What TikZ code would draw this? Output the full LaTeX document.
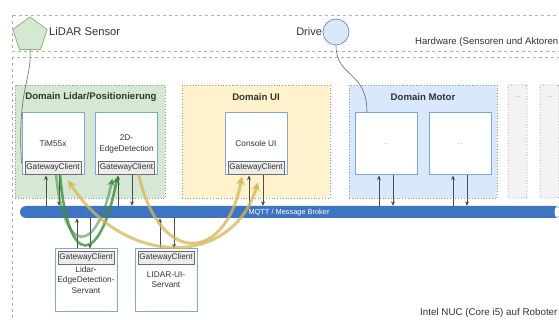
\documentclass[tikz,border=0pt]{standalone}
\usepackage{fontspec}
\setmainfont{Liberation Sans}
\usetikzlibrary{shapes.geometric,arrows.meta,calc}
\definecolor{lidarfill}{HTML}{D5E8D4}
\definecolor{lidarline}{HTML}{82B366}
\definecolor{uifill}{HTML}{FFF2CC}
\definecolor{motorfill}{HTML}{DAE8FC}
\definecolor{motorline}{HTML}{6C8EBF}
\definecolor{grayfill}{HTML}{F3F3F3}
\definecolor{compblue}{HTML}{7EA6E0}
\definecolor{busblue}{HTML}{3E74C3}
\definecolor{dashgray}{HTML}{B0B0B0}
\definecolor{txt}{HTML}{333333}
\definecolor{flowgreen}{HTML}{3E8E3E}
\definecolor{flowyellow}{HTML}{D6B656}
\tikzset{
  zone/.style={draw=dashgray, dashed, line width=0.7pt},
  domainbox/.style={draw=gray!80, dotted, line width=0.8pt, inner sep=0pt},
  domaintitle/.style={font=\bfseries\fontsize{9.6}{11}\selectfont, text=txt},
  comp/.style={draw=compblue, line width=1pt, fill=white, minimum width=62pt,
    minimum height=62pt, inner sep=0pt, align=center,
    font=\fontsize{8.3}{10.2}\selectfont, text=txt},
  gw/.style={draw=gray!85!black, fill=gray!15, line width=0.6pt, minimum width=56pt,
    minimum height=13pt, inner sep=0pt, font=\fontsize{8.2}{9}\selectfont, text=txt},
  busarrow/.style={draw=black!70, line width=0.9pt, -{Stealth[length=4.5pt,width=4pt]}},
  link/.style={draw=black!60, line width=0.6pt},
  greenflow/.style={draw=flowgreen, draw opacity=0.8, line width=2.6pt,
    -{Stealth[length=8pt,width=8pt]}},
  yellowflow/.style={draw=flowyellow, draw opacity=0.75, line width=3pt,
    -{Stealth[length=9pt,width=9pt]}},
}
\begin{document}
\begin{tikzpicture}[x=1pt,y=-1pt]
\useasboundingbox (0,0) rectangle (559,320);
\clip (0,0) rectangle (559,320);
\fill[white] (0,0) rectangle (559,320);

% hardware strip and computer frame
\draw[zone] (12,15) rectangle (575,51);
\draw[zone] (12,57) rectangle (575,335);
\node[anchor=west, font=\fontsize{9.6}{11}\selectfont, text=txt, inner sep=0pt] (hwlabel) at (415,42) {Hardware (Sensoren und Aktoren};
\node[anchor=west, font=\fontsize{9.8}{11}\selectfont, text=txt, inner sep=0pt] (nuclabel) at (420,313) {Intel NUC (Core i5) auf Roboter};

% sensors and actuators
\node[regular polygon, regular polygon sides=5, minimum size=36pt, inner sep=0pt,
  fill=lidarfill, draw=lidarline, line width=0.7pt] (lidar) at (30,35) {};
\node[anchor=west, font=\fontsize{11.2}{13}\selectfont, text=txt, inner sep=0pt] (lidarlabel) at (49,32) {LiDAR Sensor};
\node[circle, minimum size=26pt, inner sep=0pt, fill=motorfill, draw=motorline,
  line width=0.7pt] (drive) at (336,32) {};
\node[anchor=east, font=\fontsize{11}{13}\selectfont, text=txt, inner sep=0.5pt] (drivelabel) at (drive.west) {Drive};

% domains
\node[domainbox, fill=lidarfill, minimum width=150pt, minimum height=113pt] (dlidar) at (90,141.5) {};
\node[domaintitle] (tlidar) at (91,97) {Domain Lidar/Positionierung};
\node[domainbox, fill=uifill, minimum width=148pt, minimum height=113pt] (dui) at (256,141.5) {};
\node[domaintitle] (tui) at (256,97) {Domain UI};
\node[domainbox, fill=motorfill, minimum width=148pt, minimum height=113pt] (dmotor) at (423,141.5) {};
\node[domaintitle] (tmotor) at (423,97) {Domain Motor};
\node[domainbox, fill=grayfill, minimum width=19pt, minimum height=113pt, rounded corners=1pt] (dmore1) at (517.5,141.5) {};
\node[font=\fontsize{6}{7}\selectfont, text=gray] (m1dots) at (517.5,97) {...};
\node[domainbox, fill=grayfill, minimum width=19pt, minimum height=113pt, rounded corners=1pt] (dmore2) at (549.5,141.5) {};
\node[font=\fontsize{6}{7}\selectfont, text=gray] (m2dots) at (549.5,97) {...};

% components
\node[comp] (tim) at (53,144) {TiM55x};
\node[gw] (timgw) at (53,167.5) {GatewayClient};
\node[comp] (edge) at (126.5,144) {2D-\\EdgeDetection};
\node[gw] (edgegw) at (126.5,167.5) {GatewayClient};
\node[comp] (console) at (256,144) {Console UI};
\node[gw] (consolegw) at (256,167.5) {GatewayClient};
\node[comp, font=\fontsize{6}{7}\selectfont, text=gray!70] (motora) at (386,144) {...};
\node[comp, font=\fontsize{6}{7}\selectfont, text=gray!70] (motorb) at (460,144) {...};

% message broker
\node[fill=busblue, rounded corners=6pt, minimum width=541pt, minimum height=12pt,
  inner sep=0pt] (bus) at (290.5,212) {};
\node[font=\fontsize{7.4}{8}\selectfont, text=white] (buslabel) at (289,212.3) {MQTT / Message Broker};
\fill[white] (557,212) ellipse [x radius=2.5pt, y radius=5.5pt];

% servants
\node[comp] (servedge) at (86,280) {Lidar-\\EdgeDetection-\\Servant};
\node[gw] (servedgegw) at (86,257.5) {GatewayClient};
\node[comp] (servui) at (166,280) {LIDAR-UI-\\Servant};
\node[gw] (servuigw) at (166,257.5) {GatewayClient};

% hardware links
\draw[link] (lidar.south) .. controls (32,80) and (17,90) .. ([yshift=-19pt]tim.west);
\draw[link] (drive.south) .. controls (336,78) and (367,70) .. ([xshift=-19pt]motora.north);

% publish / subscribe connections to the broker
\foreach \n/\a/\b in {tim/-7/6, edge/-8.5/5.5, console/-7/7, motora/-7/7, motorb/-7/7}{
  \draw[busarrow] ([xshift=\a pt]\n.south |- bus.north) -- ([xshift=\a pt]\n.south);
  \draw[busarrow] ([xshift=\b pt]\n.south) -- ([xshift=\b pt]\n.south |- bus.north);
}
\foreach \n/\a/\b in {servedge/-9/4, servui/-6/8}{
  \draw[busarrow] ([xshift=\a pt]\n.north) -- ([xshift=\a pt]\n.north |- bus.south);
  \draw[busarrow] ([xshift=\b pt]\n.north |- bus.south) -- ([xshift=\b pt]\n.north);
}

% data flows
\coordinate (g1s) at ([xshift=7pt]timgw.south);
\coordinate (g2s) at ([xshift=3pt]timgw.south);
\draw[greenflow] (g1s) .. controls (68,270) and (100,266) .. ([xshift=-9pt,yshift=-2pt]edgegw.south);
\draw[greenflow, draw opacity=0.55] (g2s) .. controls (64,256) and (96,256) .. ([xshift=-14pt,yshift=-4pt]edgegw.south);
\draw[yellowflow] ([xshift=12pt]edgegw.south) .. controls (160,268) and (226,262) .. ([xshift=-14pt,yshift=-2pt]consolegw.south);
\draw[yellowflow, {Stealth[length=9pt,width=9pt]}-{Stealth[length=9pt,width=9pt]}]
  ([xshift=15pt,yshift=-6pt]timgw.south) .. controls (125,268) and (232,268) .. ([xshift=2pt,yshift=-8pt]consolegw.south);
\end{tikzpicture}
\end{document}
